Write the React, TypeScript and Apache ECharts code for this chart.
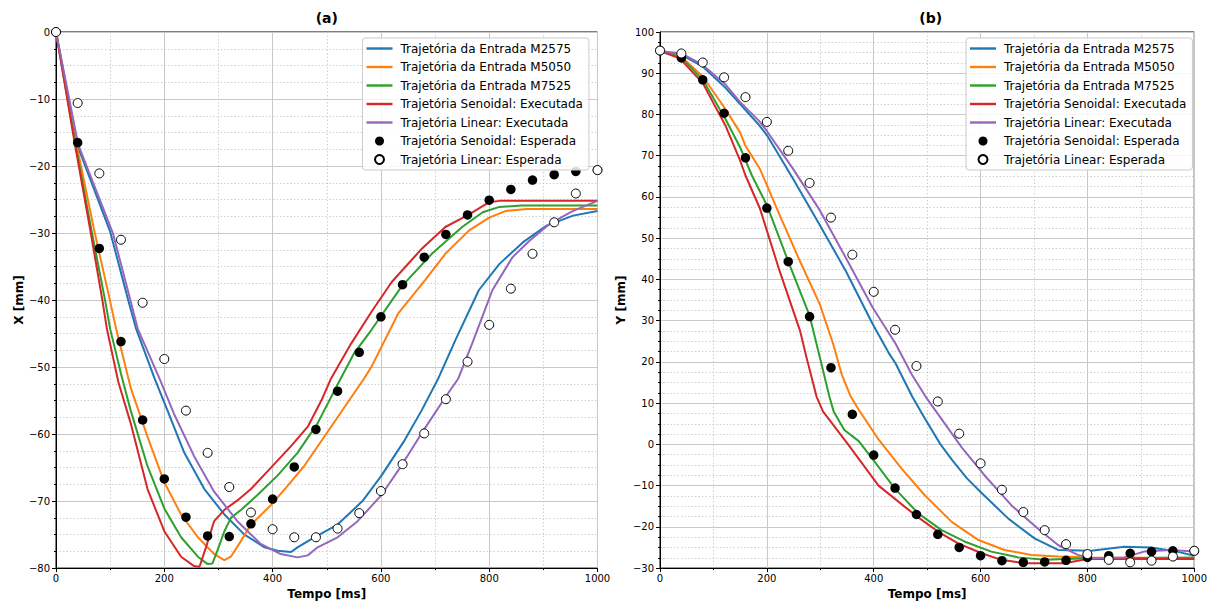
import React, { useEffect, useRef } from "react";
import * as echarts from "echarts";

// ---- Names ----
const NAMES = [
  "Trajetória da Entrada M2575",
  "Trajetória da Entrada M5050",
  "Trajetória da Entrada M7525",
  "Trajetória Senoidal: Executada",
  "Trajetória Linear: Executada",
  "Trajetória Senoidal: Esperada",
  "Trajetória Linear: Esperada",
];
const COLORS = ["#1f77b4", "#ff7f0e", "#2ca02c", "#d62728", "#9467bd"];

// ---- Expected trajectories (sampled every 40 ms) ----
const tExp = [0, 40, 80, 120, 160, 200, 240, 280, 320, 360, 400, 440, 480, 520, 560, 600, 640, 680, 720, 760, 800, 840, 880, 920, 960, 1000];
const sinXExp = [0, -16.5, -32.3, -46.2, -57.9, -66.7, -72.4, -75.2, -75.3, -73.4, -69.7, -64.9, -59.3, -53.6, -47.8, -42.5, -37.7, -33.6, -30.2, -27.3, -25.1, -23.5, -22.1, -21.3, -20.8, -20.6];
const linXExp = [0, -10.6, -21.1, -31.0, -40.4, -48.8, -56.5, -62.8, -67.9, -71.7, -74.2, -75.4, -75.4, -74.1, -71.8, -68.5, -64.5, -59.9, -54.8, -49.2, -43.7, -38.3, -33.1, -28.4, -24.1, -20.6];
const sinYExp = [95.5, 93.7, 88.4, 80.3, 69.5, 57.3, 44.3, 31.0, 18.6, 7.3, -2.6, -10.6, -17.0, -21.8, -25.0, -27.0, -28.2, -28.6, -28.5, -28.1, -27.4, -27.0, -26.4, -26.0, -25.8, -25.8];
const linYExp = [95.5, 94.8, 92.6, 89.0, 84.2, 78.2, 71.2, 63.4, 55.0, 46.0, 37.0, 27.8, 19.0, 10.4, 2.6, -4.6, -11.0, -16.4, -20.8, -24.2, -26.6, -28.0, -28.6, -28.2, -27.2, -25.8];

// ---- Executed trajectories: X [mm] vs Tempo [ms] ----
const m2575X: [number, number][] = [[0, 0], [39, -16.8], [100, -29.8], [134, -40.2], [148, -44.3], [182, -51.7], [206, -56.5], [237, -62.8], [274, -68.2], [311, -72], [348, -75], [385, -76.9], [409, -77.4], [434, -77.6], [446, -76.9], [477, -75.4], [520, -73.5], [566, -70], [601, -66.2], [644, -60.9], [675, -56.5], [706, -51.7], [738, -45.9], [781, -38.5], [819, -34.6], [862, -31.4], [906, -28.9], [955, -27.4], [1000, -26.7]];
const m5050X: [number, number][] = [[0, 0], [38, -16.8], [70, -29.4], [100, -40.2], [111, -44.3], [138, -53.1], [169, -60.4], [200, -67.2], [231, -72], [262, -75.4], [292, -77.9], [311, -78.8], [323, -78.3], [342, -75.9], [360, -73.5], [397, -70.6], [428, -67.7], [458, -64.8], [508, -58.9], [569, -51.7], [583, -49.9], [632, -42], [682, -37], [719, -33.1], [763, -29.6], [800, -27.7], [831, -26.7], [870, -26.4], [1000, -26.4]];
const m7525X: [number, number][] = [[0, 0], [36, -16.8], [65, -29.4], [91, -40.2], [100, -44.3], [120, -51], [138, -56.5], [169, -64.8], [200, -71.1], [231, -75.4], [262, -78.3], [280, -79.4], [289, -79.3], [298, -77.4], [311, -74.5], [323, -72.5], [342, -71.3], [372, -69.1], [409, -66.2], [446, -62.8], [483, -58.4], [520, -52.6], [550, -48], [583, -44.4], [638, -38], [694, -33.1], [750, -29.1], [788, -26.9], [819, -26.1], [860, -25.9], [1000, -25.9]];
const sinExecX: [number, number][] = [[0, 0], [35, -16.8], [63, -29.4], [86, -40.2], [94, -44.3], [115, -52.2], [138, -58.4], [169, -68.2], [200, -74.5], [231, -78.3], [255, -79.7], [265, -79.8], [277, -76.9], [292, -73], [311, -71.3], [335, -69.9], [360, -68.2], [397, -65], [434, -61.8], [465, -58.9], [490, -55], [508, -51.7], [545, -46.5], [583, -41.7], [620, -37.3], [676, -32.3], [719, -29.1], [763, -27.2], [800, -25.4], [819, -25.2], [1000, -25.2]];
const linExecX: [number, number][] = [[0, 0], [41, -16.8], [105, -30], [138, -40.2], [151, -44.3], [191, -51.7], [218, -57], [255, -63.3], [292, -68.6], [335, -73], [378, -76.4], [415, -77.9], [446, -78.4], [465, -78.1], [483, -76.9], [520, -75.4], [557, -73], [601, -69.1], [638, -64.7], [675, -59.9], [719, -54.5], [743, -51.7], [769, -46.4], [806, -38.5], [843, -33.6], [875, -31.1], [912, -28.6], [955, -26.7], [1000, -25.2]];

// ---- Executed trajectories: Y [mm] vs Tempo [ms] ----
const m2575Y: [number, number][] = [[0, 95.4], [40, 94.5], [80, 91.6], [123, 86.4], [150, 82.5], [185, 77.5], [200, 75], [249, 64.4], [299, 53.2], [348, 42], [398, 29.2], [429, 22], [441, 19.6], [472, 11.6], [496, 6.2], [525, 0], [548, -4], [575, -8.3], [602, -11.8], [652, -18], [701, -22.8], [745, -25.6], [807, -25.8], [869, -24.8], [919, -25], [968, -26], [1000, -27]];
const m5050Y: [number, number][] = [[0, 95.4], [40, 94], [80, 89.2], [123, 81.2], [150, 75.6], [160, 72.4], [187, 66.8], [224, 55.6], [262, 44.4], [299, 34], [324, 24.4], [340, 17], [357, 11.6], [372, 8.4], [409, 1.2], [453, -6], [496, -12.4], [546, -18.8], [596, -23.2], [645, -25.6], [695, -26.8], [745, -27.2], [807, -27.4], [1000, -27.6]];
const m7525Y: [number, number][] = [[0, 95.4], [40, 93.8], [80, 88.4], [123, 78.8], [150, 72], [172, 65.2], [200, 58], [240, 44.4], [280, 31.2], [299, 21.2], [317, 11.6], [325, 8], [345, 3.5], [372, 0.8], [403, -4.4], [440, -10.8], [484, -16.8], [527, -20.8], [571, -23.6], [620, -26], [670, -27.4], [720, -28], [800, -27.6], [1000, -27.4]];
const sinExecY: [number, number][] = [[0, 95.4], [37, 93.6], [80, 87.6], [123, 77.2], [150, 68.8], [160, 65.2], [187, 57.2], [224, 42], [262, 27.6], [274, 21.2], [293, 11.6], [305, 8], [352, 0], [409, -10], [478, -17.2], [521, -21.2], [558, -24], [602, -26.4], [639, -28], [683, -28.8], [757, -28.8], [800, -27.8], [1000, -27.8]];
const linExecY: [number, number][] = [[0, 95.4], [40, 94.8], [80, 92], [123, 87.2], [150, 83], [185, 78.5], [200, 76], [249, 66.8], [299, 56.8], [348, 45.2], [398, 33.2], [441, 24.4], [471, 17], [497, 11.6], [521, 7.2], [565, -0.8], [608, -7.6], [658, -14.8], [707, -20.4], [745, -24.4], [782, -26.8], [807, -27.6], [869, -27.4], [906, -26], [956, -25.6], [1000, -26]];

// ---- Axis ranges / ticks ----
const xRange = { min: 0, max: 1000, interval: 200 };
const yRangeA = { min: -80, max: 0, interval: 10 };
const yRangeB = { min: -30, max: 100, interval: 10 };

const FONT = "DejaVu Sans";
const LINE_ICON = "path://M0,0 L26,0 L26,2.4 L0,2.4 Z";

const fmt = (v: number) => String(v).replace("-", "\u2212");

function makeXAxis(gridIndex: number) {
  return {
    type: "value",
    gridIndex,
    ...xRange,
    name: "Tempo [ms]",
    nameLocation: "middle",
    nameGap: 18,
    nameTextStyle: { fontFamily: FONT, fontSize: 12, fontWeight: "bold", color: "#000" },
    axisLine: { show: true, onZero: false, lineStyle: { color: "#000", width: 1 } },
    axisTick: { show: true, length: 4, lineStyle: { color: "#000" } },
    minorTick: { show: true, splitNumber: 2, length: 2, lineStyle: { color: "#000" } },
    axisLabel: { formatter: fmt, fontFamily: FONT, fontSize: 10, color: "#000", margin: 5 },
    splitLine: { show: true, lineStyle: { color: "#c8c8c8", width: 1 } },
    minorSplitLine: { show: true, lineStyle: { color: "#c4c4c4", width: 0.8, type: [1.5, 2] } },
  };
}

function makeYAxis(gridIndex: number, range: any, name: string, nameGap: number) {
  return {
    type: "value",
    gridIndex,
    ...range,
    name,
    nameLocation: "middle",
    nameGap,
    nameTextStyle: { fontFamily: FONT, fontSize: 12, fontWeight: "bold", color: "#000" },
    axisLine: { show: true, onZero: false, lineStyle: { color: "#000", width: 1 } },
    axisTick: { show: true, length: 4, lineStyle: { color: "#000" } },
    minorTick: { show: true, splitNumber: 4, length: 2, lineStyle: { color: "#000" } },
    axisLabel: { formatter: fmt, fontFamily: FONT, fontSize: 10, color: "#000", margin: 6 },
    splitLine: { show: true, lineStyle: { color: "#c8c8c8", width: 1 } },
    minorSplitLine: { show: true, lineStyle: { color: "#c4c4c4", width: 0.8, type: [1.5, 2] } },
  };
}

function lineSeries(name: string, color: string, data: [number, number][], idx: number) {
  return {
    type: "line",
    name,
    xAxisIndex: idx,
    yAxisIndex: idx,
    data,
    showSymbol: false,
    symbol: "none",
    smooth: false,
    lineStyle: { color, width: 2 },
    itemStyle: { color },
    z: 2,
  };
}

function scatterSeries(name: string, filled: boolean, ys: number[], idx: number) {
  return {
    type: "scatter",
    name,
    xAxisIndex: idx,
    yAxisIndex: idx,
    data: tExp.map((t, i) => [t, ys[i]]),
    symbol: "circle",
    symbolSize: filled ? 9.5 : 9,
    itemStyle: filled
      ? { color: "#000", borderColor: "#000", borderWidth: 0, opacity: 1 }
      : { color: "#fff", borderColor: "#000", borderWidth: 1, opacity: 1 },
    z: 3,
  };
}

function makeLegend(left: number) {
  return {
    left,
    top: 38,
    orient: "vertical",
    itemWidth: 26,
    itemHeight: 9,
    itemGap: 5.5,
    padding: [4, 6, 4, 4],
    symbolKeepAspect: true,
    backgroundColor: "rgba(255,255,255,0.85)",
    borderColor: "#cccccc",
    borderWidth: 1,
    borderRadius: 3,
    selectedMode: false,
    textStyle: { fontFamily: FONT, fontSize: 12, color: "#000", lineHeight: 13, padding: [0, 0, 0, 3] },
    data: NAMES.map((n, i) => (i < 5 ? { name: n, icon: LINE_ICON } : { name: n, icon: "circle" })),
  };
}

export default function App() {
  const ref = useRef<HTMLDivElement>(null);
  useEffect(() => {
    if (!ref.current) return;
    const chart = echarts.init(ref.current, undefined, { renderer: "svg" });
    const gridA = { left: 56, top: 32, width: 541.5, height: 542 };
    const gridB = { left: 660, top: 32, width: 541.5, height: 542 };
    const seriesX = [m2575X, m5050X, m7525X, sinExecX, linExecX];
    const seriesY = [m2575Y, m5050Y, m7525Y, sinExecY, linExecY];
    const series: any[] = [];
    seriesX.forEach((d, i) => series.push(lineSeries(NAMES[i], COLORS[i], d, 0)));
    series.push(scatterSeries(NAMES[5], true, sinXExp, 0));
    series.push(scatterSeries(NAMES[6], false, linXExp, 0));
    seriesY.forEach((d, i) => series.push(lineSeries(NAMES[i], COLORS[i], d, 1)));
    series.push(scatterSeries(NAMES[5], true, sinYExp, 1));
    series.push(scatterSeries(NAMES[6], false, linYExp, 1));

    chart.setOption({
      animation: false,
      backgroundColor: "#fff",
      textStyle: { fontFamily: FONT },
      grid: [
        { ...gridA, show: true, borderColor: "#000", borderWidth: 1, backgroundColor: "transparent" },
        { ...gridB, show: true, borderColor: "#000", borderWidth: 1, backgroundColor: "transparent" },
      ],
      xAxis: [makeXAxis(0), makeXAxis(1)],
      yAxis: [makeYAxis(0, yRangeA, "X [mm]", 31), makeYAxis(1, yRangeB, "Y [mm]", 33)],
      legend: [makeLegend(362.5), makeLegend(966)],
      graphic: [
        {
          type: "text",
          x: 326.75,
          y: 18,
          style: { text: "(a)", align: "center", verticalAlign: "middle", font: `bold 14px "${FONT}"`, fill: "#000" },
        },
        {
          type: "text",
          x: 930.75,
          y: 18,
          style: { text: "(b)", align: "center", verticalAlign: "middle", font: `bold 14px "${FONT}"`, fill: "#000" },
        },
      ],
      series,
    });
    return () => chart.dispose();
  }, []);
  return (
    <div
      ref={ref}
      style={{ position: "absolute", left: 0, top: 0, width: 1210, height: 605, background: "#fff" }}
    />
  );
}
